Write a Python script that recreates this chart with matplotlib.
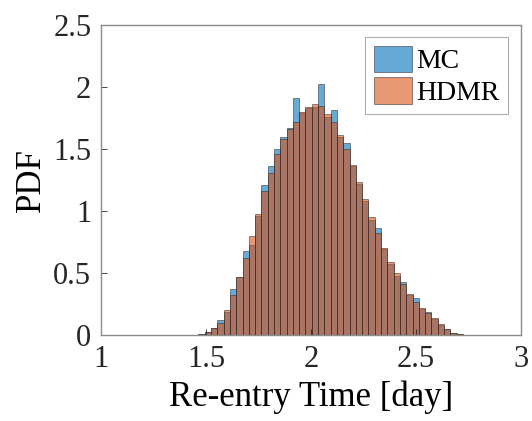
import numpy as np
import matplotlib.pyplot as plt

plt.rcParams['font.family'] = ['Liberation Serif', 'DejaVu Serif']

# histogram bins (day): first edge and common bin width
bin_start = 1.404
bin_width = 0.03

# PDF values read per bin
mc_pdf = [0.001, 0.002, 0.01, 0.025, 0.06, 0.12, 0.19, 0.37, 0.47, 0.68,
          0.73, 0.96, 1.21, 1.36, 1.50, 1.60, 1.67, 1.91, 1.79, 1.83,
          1.84, 2.02, 1.76, 1.81, 1.60, 1.55, 1.36, 1.22, 1.08, 0.93,
          0.86, 0.69, 0.57, 0.48, 0.43, 0.32, 0.30, 0.21, 0.19, 0.13,
          0.08, 0.05, 0.02, 0.008, 0.003, 0.001]
hdmr_pdf = [0.0, 0.003, 0.008, 0.027, 0.054, 0.10, 0.20, 0.32, 0.465, 0.62,
            0.80, 0.975, 1.16, 1.31, 1.46, 1.58, 1.66, 1.72, 1.80, 1.84,
            1.86, 1.85, 1.78, 1.72, 1.61, 1.50, 1.37, 1.23, 1.10, 0.95,
            0.82, 0.70, 0.59, 0.50, 0.41, 0.33, 0.27, 0.22, 0.18, 0.14,
            0.09, 0.05, 0.02, 0.008, 0.003, 0.001]

x_ticks = [1, 1.5, 2, 2.5, 3]
y_ticks = [0, 0.5, 1, 1.5, 2, 2.5]

edges = bin_start + bin_width * np.arange(len(mc_pdf))

fig = plt.figure(figsize=(5.32, 4.21), dpi=100)
ax = fig.add_axes([0.19, 0.204, 0.789, 0.737])

blue = (0.0, 0.447, 0.741)
orange = (0.85, 0.325, 0.098)
edge = (0.15, 0.15, 0.15)

ax.bar(edges, mc_pdf, width=bin_width, align='edge', color=blue, alpha=0.6,
       edgecolor=edge, linewidth=0.6, label='MC')
ax.bar(edges, hdmr_pdf, width=bin_width, align='edge', color=orange, alpha=0.6,
       edgecolor=edge, linewidth=0.6, label='HDMR')

ax.set_xlim(1, 3)
ax.set_ylim(0, 2.5)
ax.set_xticks(x_ticks)
ax.set_xticklabels(['1', '1.5', '2', '2.5', '3'])
ax.set_yticks(y_ticks)
ax.set_yticklabels(['0', '0.5', '1', '1.5', '2', '2.5'])
ax.tick_params(direction='in', labelsize=22, colors=(0.15, 0.15, 0.15),
               length=4, width=0.6, pad=7)
for s in ax.spines.values():
    s.set_color((0.55, 0.55, 0.55))
    s.set_linewidth(1.0)

ax.set_xlabel('Re-entry Time [day]', fontsize=25, labelpad=5)
ax.set_ylabel('PDF', fontsize=25, labelpad=4)

leg = ax.legend(loc='upper right', fontsize=20, frameon=True, fancybox=False,
                handlelength=1.4, handleheight=1.1, handletextpad=0.15,
                borderpad=0.3, labelspacing=0.1, borderaxespad=0.45)
leg.get_frame().set_edgecolor((0.6, 0.6, 0.6))
leg.get_frame().set_linewidth(0.8)

fig.savefig('out.png', dpi=100)
